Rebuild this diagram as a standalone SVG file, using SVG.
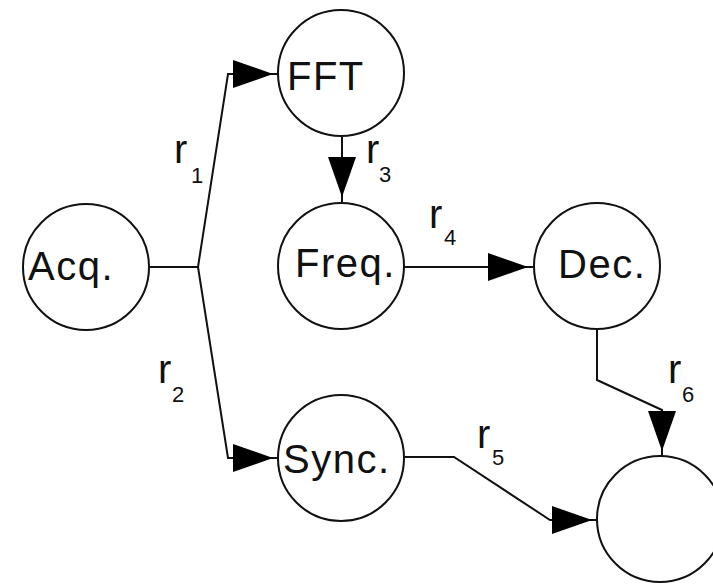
<svg xmlns="http://www.w3.org/2000/svg" width="713" height="585" viewBox="0 0 713 585">
<defs>
<style>
.node{fill:#fff;stroke:#111;stroke-width:2}
.lbl{font-family:"Liberation Sans",Arial,sans-serif;font-size:40px;fill:#111;letter-spacing:1.5px}
.r{font-family:"Liberation Sans",Arial,sans-serif;font-size:40px;fill:#111}
.sub{font-family:"Liberation Sans",Arial,sans-serif;font-size:22px;fill:#111}
.edge{fill:none;stroke:#111;stroke-width:2}
</style>
<marker id="ah" markerUnits="userSpaceOnUse" markerWidth="50" markerHeight="30" refX="45" refY="14" orient="auto">
<path d="M0,0 L40,14 L0,28 z" fill="#000"/>
</marker>
</defs>
<rect width="713" height="585" fill="#fff"/>
<g id="connectors">
<path class="edge" d="M148,267 L198,267"/>
<path class="edge" d="M198,267 L228,74 L278,74" marker-end="url(#ah)"/>
<path class="edge" d="M198,267 L228,458 L278,458" marker-end="url(#ah)"/>
<path class="edge" d="M342,137 L342,202" marker-end="url(#ah)"/>
<path class="edge" d="M404,267 L533,267" marker-end="url(#ah)"/>
<path class="edge" d="M404,457 L454,457 L550,520 L597,520" marker-end="url(#ah)"/>
<path class="edge" d="M597,330 L597,380 L662,410 L662,456" marker-end="url(#ah)"/>
<g id="labels">
<text class="r" x="174" y="163">r</text><text class="sub" x="191" y="183">1</text>
<text class="r" x="158" y="383">r</text><text class="sub" x="172" y="402">2</text>
<text class="r" x="366" y="163">r</text><text class="sub" x="379" y="182">3</text>
<text class="r" x="429" y="228">r</text><text class="sub" x="444" y="245">4</text>
<text class="r" x="477" y="448">r</text><text class="sub" x="492" y="465">5</text>
<text class="r" x="668" y="383">r</text><text class="sub" x="682" y="402">6</text>
</g>
</g>
<g id="acq"><circle class="node" cx="86" cy="267" r="63"/><text class="lbl" x="28" y="280">Acq.</text></g>
<g id="fft"><circle class="node" cx="341" cy="73" r="63"/><text class="lbl" x="287" y="90">FFT</text></g>
<g id="freq"><circle class="node" cx="341" cy="266" r="63"/><text class="lbl" x="295" y="277">Freq.</text></g>
<g id="dec"><circle class="node" cx="597" cy="266" r="63"/><text class="lbl" x="558" y="278">Dec.</text></g>
<g id="sync"><circle class="node" cx="341" cy="458" r="63"/><text class="lbl" x="283" y="473">Sync.</text></g>
<g id="out"><circle class="node" cx="660" cy="519" r="63"/></g>
</svg>
